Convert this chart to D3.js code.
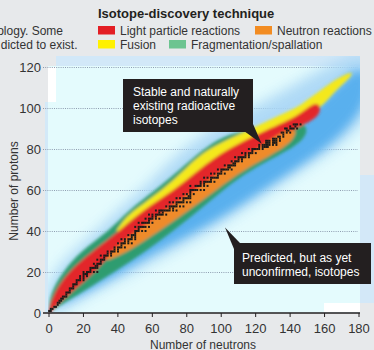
<!DOCTYPE html>
<html><head><meta charset="utf-8">
<script src="https://cdn.jsdelivr.net/npm/d3@7/dist/d3.min.js"></script>
<style>
html,body{margin:0;padding:0;background:#e7e9eb;}
svg{display:block;font-family:"Liberation Sans",Arial,sans-serif;}
</style></head>
<body><svg id="c" width="374" height="350"></svg>
<script>
// ---------- data ----------
const xTickValues = [0,20,40,60,80,100,120,140,160,180];
const yTickValues = [0,20,40,60,80,100,120];
const techniques = ["Light particle reactions","Neutron reactions","Fusion","Fragmentation/spallation"];
const techColors = ["#e31e24","#f28c22","#fff100","#6cc490"];

// predicted region (blue glow): proton number Z and neutron range [L,R]
const glowOuterZ = [0,10,20,30,40,50,60,70,80,90,100,110,120,126];
const glowOuterL = [-2,-2,3,14,28,40,54,66,78,95,118,140,160,176];
const glowOuterR = [6,26,50,72,94,112,130,148,166,180,188,190,190,190];
const glowInnerZ = [5,10,20,30,40,50,60,70,80,90,100,110,118];
const glowInnerL = [4,12,27,42,60,74,90,106,124,139,153,166,177];
const glowInnerR = [8,21,42,62,86,106,124,142,160,173,182,186,184];

// known isotopes by discovery technique
const fragZ = [0,3,10,20,30,40,50,60,70,80,86,90,93];
const fragL = [0,0,1,8,18,35,46,62,76,90,100,118,140];
const fragR = [0,5,19,38,56,72,87,101,117,141,149,150,147];
const fusionZ = [40,45,50,60,70,80,90,95,100,104,108,112,115,117];
const fusionL = [39,43,49,66,79,91,118,130,144,150,157,163,169,174];
const fusionR = [41,47,56,75,89,106,132,148,157,162,166,171,175,176];
const lightZ = [0,2,10,20,30,40,50,60,70,80,90,95,100,102];
const lightL = [0,0,3,11,25,41,54,73,87,103,128,142,150,154];
const lightR = [1,2,13,27,37,52,68,87,103,123,143,156,158,156];
const neutronZ = [26,30,40,50,60,70,80,86,89];
const neutronL = [33,36,51,67,85,101,121,131,138];
const neutronR = [35,46,64,81,97,113,136,143,143];

// stable and naturally existing radioactive isotopes: [Z, [N...]]
const stableIsotopes = [
[1,[0,1]],[2,[1,2]],[3,[3,4]],[4,[5]],[5,[5,6]],[6,[6,7]],[7,[7,8]],[8,[8,9,10]],[9,[10]],[10,[10,11,12]],
[11,[12]],[12,[12,13,14]],[13,[14]],[14,[14,15,16]],[15,[16]],[16,[16,17,18,20]],[17,[18,20]],[18,[18,20,22]],
[19,[20,21,22]],[20,[20,22,23,24,26,28]],[21,[24]],[22,[24,25,26,27,28]],[23,[27,28]],[24,[26,28,29,30]],
[25,[30]],[26,[28,30,31,32]],[27,[32]],[28,[30,32,33,34,36]],[29,[34,36]],[30,[34,36,37,38,40]],[31,[38,40]],
[32,[38,40,41,42,44]],[33,[42]],[34,[40,42,43,44,46,48]],[35,[44,46]],[36,[42,44,46,47,48,50]],[37,[48,50]],
[38,[46,48,49,50]],[39,[50]],[40,[50,51,52,54,56]],[41,[52]],[42,[50,52,53,54,55,56,58]],[44,[52,54,55,56,57,58,60]],
[45,[58]],[46,[56,58,59,60,62,64]],[47,[60,62]],[48,[58,60,62,63,64,65,66,68]],[49,[64,66]],
[50,[62,64,65,66,67,68,69,70,72,74]],[51,[70,72]],[52,[68,70,71,72,73,74,76,78]],[53,[74]],
[54,[70,72,74,75,76,77,78,80,82]],[55,[78]],[56,[74,76,78,79,80,81,82]],[57,[81,82]],[58,[78,80,82,84]],
[59,[82]],[60,[82,83,84,85,86,88,90]],[62,[82,85,86,87,88,90,92]],[63,[88,90]],[64,[88,90,91,92,93,94,96]],
[65,[94]],[66,[90,92,94,95,96,97,98]],[67,[98]],[68,[94,96,98,99,100,102]],[69,[100]],
[70,[98,100,101,102,103,104,106]],[71,[104,105]],[72,[102,104,105,106,107,108]],[73,[107,108]],
[74,[106,108,109,110,112]],[75,[110,112]],[76,[108,110,111,112,113,114,116]],[77,[114,116]],
[78,[112,114,116,117,118,120]],[79,[118]],[80,[116,118,119,120,121,122,124]],[81,[122,124,125,126,127]],
[82,[122,124,125,126,127,128,130,132]],[83,[126,127,128,130,131,132]],[84,[126,127,128,130,131,132,134]],
[85,[130,131,132,134]],[86,[133,134,136]],[87,[136]],[88,[135,136,138,140]],[89,[138,139]],
[90,[137,138,140,141,142,144]],[91,[140,143]],[92,[142,143,144,146]]
];

// ---------- drawing ----------
const svg = d3.select("#c");
const x = d3.scaleLinear().domain([0,180]).range([49,359]);
const y = d3.scaleLinear().domain([0,120]).range([313,67]);
const zip = (zs,ls,rs) => zs.map((z,i)=>({z, l:ls[i], r:rs[i]}));
const area = d3.area().curve(d3.curveBasis).y(d=>y(d.z)).x0(d=>x(d.l)).x1(d=>x(d.r));

const defs = svg.append("defs");
defs.append("clipPath").attr("id","plotClip").append("rect")
  .attr("x",48).attr("y",56).attr("width",312).attr("height",257);
function blur(id, s){
  defs.append("filter").attr("id",id).attr("x","-30%").attr("y","-30%").attr("width","160%").attr("height","160%")
    .append("feGaussianBlur").attr("stdDeviation", s);
}
blur("bBig",7); blur("bMid",5); blur("bSmall",1.5);

// frame / background pieces
svg.append("rect").attr("width",374).attr("height",350).attr("fill","#e7e9eb");
svg.append("rect").attr("x",56).attr("y",56).attr("width",304).attr("height",11).attr("fill","#d2e8f8");
svg.append("rect").attr("x",48).attr("y",66).attr("width",312).attr("height",247).attr("fill","#e4fbfd");
svg.append("rect").attr("x",48).attr("y",67).attr("width",8).attr("height",35).attr("fill","#ffffff");
svg.append("rect").attr("x",45).attr("y",102).attr("width",3).attr("height",211).attr("fill","#d3e9f8");
svg.append("rect").attr("x",360).attr("y",175).attr("width",14).attr("height",128).attr("fill","#d3e8f8");
svg.append("rect").attr("x",324).attr("y",303).attr("width",36).attr("height",9).attr("fill","#ffffff");

// gridlines
svg.append("g").selectAll("line").data(yTickValues.filter(v=>v>0)).join("line")
  .attr("x1",43).attr("x2",358).attr("y1",d=>y(d)+0.5).attr("y2",d=>y(d)+0.5)
  .attr("stroke","#8e9db0").attr("stroke-width",1).attr("stroke-dasharray","1,1.2");

const plot = svg.append("g").attr("clip-path","url(#plotClip)");
// blue glow of predicted isotopes
const glow = plot.append("g");
glow.append("path").datum(zip(glowOuterZ,glowOuterL,glowOuterR)).attr("d",area)
  .attr("fill","#a9d6f5").attr("opacity",0.9).attr("filter","url(#bBig)");
glow.append("path").datum(zip(glowInnerZ,glowInnerL,glowInnerR)).attr("d",area)
  .attr("fill","#55aeee").attr("opacity",0.95).attr("filter","url(#bMid)");

// known isotopes by technique
const known = plot.append("g").attr("filter","url(#bSmall)");
known.append("path").datum(zip(fragZ,fragL,fragR)).attr("d",area).attr("fill","#2f9c70");
known.append("path").datum(zip(fusionZ,fusionL,fusionR)).attr("d",area).attr("fill","#f4e81c");
known.append("path").datum(zip(lightZ,lightL,lightR)).attr("d",area).attr("fill","#e3262b");
known.append("path").datum(zip(neutronZ,neutronL,neutronR)).attr("d",area).attr("fill","#ef8b2c");

// stable squares
const stableFlat = stableIsotopes.flatMap(([z,ns])=>ns.map(n=>({z,n})));
const cw = x(1)-x(0), ch = y(0)-y(1);
plot.append("g").selectAll("rect").data(stableFlat).join("rect")
  .attr("x",d=>x(d.n)-cw/2).attr("y",d=>y(d.z)-ch/2)
  .attr("width",cw+0.2).attr("height",ch)
  .attr("fill","#1c1b1a");

// x axis
svg.append("line").attr("x1",43).attr("x2",360).attr("y1",313).attr("y2",313)
  .attr("stroke","#231f20").attr("stroke-width",1.6);
svg.append("g").selectAll("line").data(xTickValues).join("line")
  .attr("x1",d=>x(d)).attr("x2",d=>x(d)).attr("y1",313).attr("y2",317)
  .attr("stroke","#231f20").attr("stroke-width",1);
svg.append("g").selectAll("text").data(xTickValues).join("text")
  .attr("x",d=>x(d)).attr("y",333).attr("text-anchor","middle")
  .attr("font-size",13).attr("fill","#333").text(d=>d);
svg.append("g").selectAll("text").data(yTickValues).join("text")
  .attr("x",41).attr("y",d=>y(d)+4.7).attr("text-anchor","end")
  .attr("font-size",13).attr("fill","#333").text(d=>d);
svg.append("text").attr("x",203).attr("y",348.5).attr("text-anchor","middle")
  .attr("font-size",12).attr("fill","#333").text("Number of neutrons");
svg.append("text").attr("transform","translate(18,191) rotate(-90)").attr("text-anchor","middle")
  .attr("font-size",12).attr("fill","#333").text("Number of protons");

// callouts
const c1 = svg.append("g");
c1.append("polygon").attr("points",[[244,131],[253,124],[x(123.5),y(82.6)]].map(p=>p.join(",")).join(" ")).attr("fill","#231f20");
c1.append("rect").attr("x",123).attr("y",79).attr("width",130).attr("height",53).attr("fill","#231f20");
["Stable and naturally","existing radioactive","isotopes"].forEach((t,i)=>
  c1.append("text").attr("x",133).attr("y",96+i*14).attr("font-size",12).attr("fill","#fff").text(t));
const c2 = svg.append("g");
c2.append("polygon").attr("points",[[x(102.2),y(41.7)],[240,243],[234,249]].map(p=>p.join(",")).join(" ")).attr("fill","#231f20");
c2.append("rect").attr("x",234).attr("y",243).attr("width",137).attr("height",41).attr("fill","#231f20");
["Predicted, but as yet","unconfirmed, isotopes"].forEach((t,i)=>
  c2.append("text").attr("x",242).attr("y",262+i*14).attr("font-size",12).attr("fill","#fff").text(t));

// legend
svg.append("text").attr("x",98).attr("y",18).attr("font-size",13).attr("font-weight","bold")
  .attr("fill","#231f20").text("Isotope-discovery technique");
const legPos = [[98,26],[255,26],[98,40],[169,40]];
const lg = svg.append("g").selectAll("g").data(techniques).join("g")
  .attr("transform",(d,i)=>`translate(${legPos[i][0]},${legPos[i][1]})`);
lg.append("rect").attr("width",17).attr("height",8.5).attr("fill",(d,i)=>techColors[i]);
lg.append("text").attr("x",22).attr("y",8.8).attr("font-size",12).attr("fill","#333").text(d=>d);

// cut-off body text at left
svg.append("text").attr("x",63).attr("y",35).attr("text-anchor","end").attr("font-size",12).attr("fill","#333").text("ology. Some");
svg.append("text").attr("x",77.5).attr("y",49).attr("text-anchor","end").attr("font-size",12).attr("fill","#333").text("dicted to exist.");
</script></body></html>
